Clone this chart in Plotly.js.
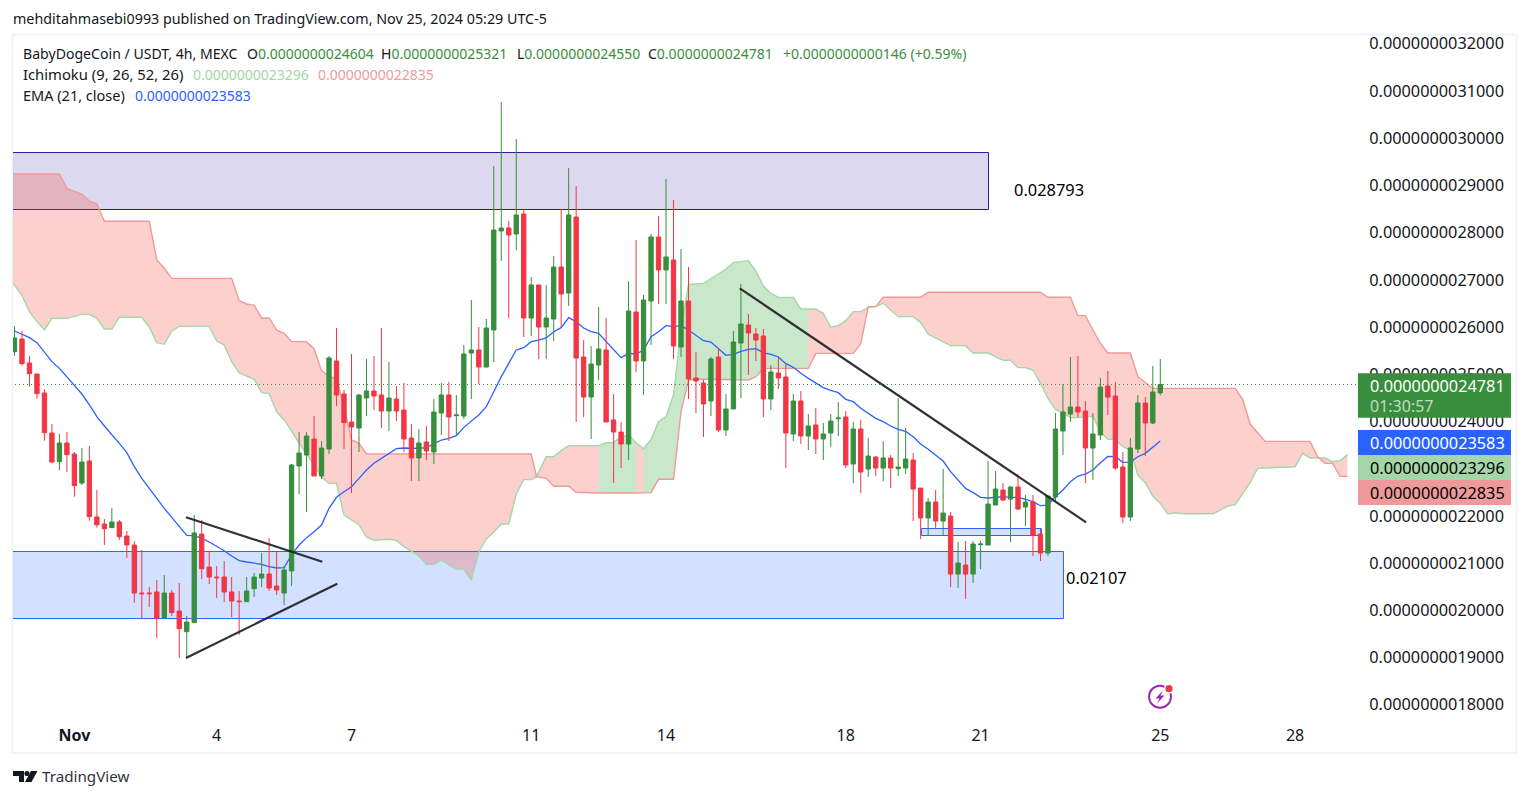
<!DOCTYPE html>
<html><head><meta charset="utf-8">
<script src="https://cdn.plot.ly/plotly-3.0.1.min.js"></script>
<style>html,body{margin:0;padding:0;background:#fff}#c{width:1530px;height:798px}</style>
</head><body><div id="c"></div>
<script>
// Prices are in units of 1e-13 USDT
const open=[25477,25746,25237,25004,24602,23754,23147,23542,23309,22695,
23161,21975,21826,21749,21869,21572,21381,20364,20364,20386,
19842,20364,19983,19545,19736,21614,20915,20703,20703,20386,
20195,20181,20456,20682,20767,20513,20364,20831,23055,23288,
23627,22843,23415,25280,24580,23987,23860,24496,24644,24559,
24220,24474,24241,23648,23225,23564,23352,24178,24559,24122,
24114,25449,25513,25152,25936,28034,28097,27970,28394,26191,
26890,26000,26169,27271,26720,28330,25364,24517,25195,25513,
24030,23775,23521,26318,25280,26551,27907,27208,27419,25576,
26551,24919,24813,24432,25364,23818,24263,25661,26042,25852,
25809,24475,25025,24941,23733,24432,23691,23924,23627,23754,
24058,24093,23097,23839,22991,23245,23012,23224,22998,23012,
23182,22588,21953,22292,21889,21995,20766,20957,20766,21388,
21381,22228,22546,22355,22610,22186,22292,21614,21211,22398,
23796,24156,24305,24220,23436,23711,24749,24538,23033,21974,
23415,24389,23966,24604];
const high=[26021,25915,25386,25004,24679,23945,23733,23775,23352,23436,
23479,22547,21932,22165,21911,21678,21466,21275,20492,20640,
20746,20428,20576,19877,22017,21911,21247,20936,21042,20703,
20407,20703,20788,21212,21530,21233,20936,23097,23775,23775,
24114,23585,25386,25979,24665,25428,24580,25322,25385,25979,
25258,24750,24813,23945,23839,23903,24474,24813,24835,24559,
25619,26572,26000,26169,29411,30767,28246,29983,28493,27059,
26890,26890,27504,28493,29368,28987,25725,25597,26424,26191,
24580,23987,26974,27843,26678,27970,28352,29135,28691,27652,
27271,25470,24877,25364,25555,24580,25915,26911,26275,25979,
25958,25195,25364,25216,24580,24644,24157,24284,23966,24157,
24411,24220,23987,24030,23648,23266,23584,23288,24495,23860,
23330,22588,22377,22546,22991,22080,21444,21466,21466,21473,
23160,22949,22694,22631,22885,22440,22440,21720,22419,24177,
24792,25364,25385,24432,24177,24919,25067,24834,23351,23648,
24559,24516,25173,25321];
const low=[25393,25181,24736,24482,23592,23119,22970,22928,22405,22653,
21897,21749,21381,21742,21487,21106,20160,19821,20068,19411,
19828,19877,18987,18994,19729,20661,20555,20259,20174,19856,
19475,20174,20280,20492,20407,20322,20110,20513,22462,22081,
22843,22780,23309,24326,23415,22483,23352,24114,24241,23860,
23797,24008,23352,22737,22737,23182,23097,23712,23585,23691,
24051,24474,24792,25152,25258,27398,26191,27631,25788,25809,
25322,25322,25703,26000,26445,23987,24093,23627,24877,23987,
22695,23013,23182,25047,24559,25619,26487,26487,25322,25364,
24475,24178,23669,24114,23775,23691,24263,24496,24983,25280,
24093,24241,24686,23013,23585,23521,23394,23309,23182,23458,
23691,23013,22695,22483,22822,22843,22737,22588,22843,22885,
21889,21508,21593,21720,21593,20491,20470,20237,20576,20872,
21381,22228,22313,21444,22122,21783,21148,21042,21148,22292,
23288,23987,24093,22694,22758,23605,24135,22970,21847,21889,
23330,23266,23944,24550];
const close=[25767,25223,25011,24588,23761,23140,23542,23295,22638,23140,
21982,21812,21727,21869,21558,21381,20364,20350,20350,19821,
20364,19948,19609,19750,21636,20880,20703,20689,20386,20195,
20181,20407,20703,20767,20470,20428,20852,23076,23330,23691,
22843,23436,25343,24559,23973,23881,24559,24644,24538,24220,
24496,24220,23627,23225,23542,23373,24199,24559,24093,24136,
25428,25513,25152,25979,28055,28097,27949,28373,26191,26890,
26000,26191,27271,26699,28373,25343,24517,25216,25534,23987,
23775,23521,26339,25280,26572,27907,27208,27483,25597,26551,
24898,24856,24369,25322,23818,24263,25682,26063,25873,25725,
24475,25047,24919,23754,24432,23691,23903,23627,23733,24008,
24072,23076,23839,22928,23266,23012,23224,23012,23033,23203,
22567,21953,22292,21889,22059,20766,20999,20766,21402,21402,
22249,22567,22334,22610,22144,22292,21593,21211,22419,23838,
24199,24305,24199,23436,23733,24728,24516,23012,21974,23436,
24389,23966,24622,24781];

const emaValues=[25915,25850,25774,25668,25477,25266,25124,24948,24750,24580,
24348,24100,23903,23726,23535,23338,23041,22794,22582,22349,
22158,21968,21770,21586,21579,21523,21445,21360,21261,21148,
21050,21021,21000,20972,20922,20894,20901,21170,21381,21537,
21664,21805,22158,22392,22511,22617,22794,22970,23112,23217,
23323,23422,23436,23429,23429,23443,23521,23606,23641,23698,
23874,24015,24136,24312,24630,24948,25230,25513,25562,25689,
25724,25767,25901,25986,26198,26113,25979,25901,25866,25689,
25513,25350,25442,25428,25513,25795,25901,26028,26007,26028,
25936,25830,25710,25682,25534,25400,25421,25484,25527,25541,
25456,25421,25364,25223,25145,25018,24912,24806,24715,24658,
24609,24467,24418,24277,24170,24064,23994,23902,23831,23789,
23676,23521,23408,23288,23160,22935,22758,22581,22490,22391,
22377,22391,22405,22391,22391,22348,22299,22214,22228,22405,
22546,22723,22843,22885,22970,23125,23259,23252,23132,23139,
23252,23323,23450,23583];

const leadAx=[-1,0,1,2,3,4,5,7,9,10,11,12,13,14,17,18,19,20,21,22,26,27,28,29,30,32,33,34,35,36,37,38,39,40,41,42,43,44,45,46,47,48,50,51,52,53,54,55,56,57,58,59,60,61,62,63,64,65,66,67,68,69,69.7,71,72,73,74,78,79,80,81,82,83,84,85,86,87,88,89,90,92,94,95,96,98,99,100,101,102,104,105,106,107,108,109,110,111,112,113,114,115,116,117,118,120,121,122,123,124,125,127,128,130,131,132,133,134,135,136,137,138,139,140,141,142,144,145,146,147,148,149,150,151,152,153,154,155,156,160,161,162,163,164,165,166,171,172,173,175,176,177,178];
const leadAv=[26960,26890,26664,26325,26113,25937,26184,26184,26268,26268,26184,25958,25958,26205,26205,26000,25668,25633,25915,26014,26014,25703,25619,25266,25033,24891,24609,24588,24206,24030,23797,23535,23323,23076,22829,22688,22688,22017,21911,21812,21551,21481,21502,21474,21346,21255,21149,20972,20972,21064,20958,20873,20873,20640,21240,21509,21657,21827,21827,22462,22766,22766,22829,23253,23253,23380,23486,23486,23550,23550,23677,23712,23550,23422,23620,23994,24100,24559,25950,26904,26925,27123,27229,27363,27405,27186,26869,26713,26628,26628,26381,26382,26382,26290,26000,26029,26134,26325,26325,26417,26431,26502,26360,26219,26219,26099,25845,25760,25675,25605,25605,25449,25449,25372,25294,25294,25139,25139,25089,24806,24488,24255,24184,24079,24079,24107,23782,23620,23620,23464,23394,22864,22701,22419,22264,22038,22066,22045,22045,22122,22207,22235,22475,22701,23005,23040,23323,23224,23224,23146,23167,23296];
const leadBx=[-1,6,7,8,9,10,11,12,18,19,20,21,29,30,31,32,33,34,35,36,37,39,40,41,42,43,44,45,46,47,69,69.7,71,72,74,75,77,78,83,84,85,86,88,89,90,91,98,99,100,106,107,112,113,114,115,116,121,122,137,138,141,142,143,144,145,146,149,150,152,163,164,165,167,173,174,175,176,177,178];
const leadBv=[29242,29242,28938,28874,28811,28670,28606,28239,28239,27412,27243,27031,27031,26558,26487,26459,26191,26191,25937,25866,25689,25689,25541,25075,24948,24912,24312,23606,23535,23309,23309,22829,22794,22625,22625,22498,22483,22483,22483,22483,22490,22773,22773,24206,24877,24898,24877,24948,25124,25125,25442,25442,25640,26431,26431,26629,26629,26735,26735,26629,26629,26240,26240,25937,25654,25449,25449,24947,24700,24700,24467,23944,23577,23577,23252,23111,23111,22835,22835];
const cloudBreaks=[-1,69.7,78,83,84,106,178];
const cloudColours=["red","red","green","red","green","red"];

const yTickVals=[32000,31000,30000,29000,28000,27000,26000,25000,24000,23000,22000,21000,20000,19000,18000];
const yTickText=yTickVals.map(v=>"0.00000000"+v);
const xTickVals=[8,27,45,69,87,111,129,153,171];
const xTickText=["<b>Nov</b>","4","7","11","14","18","21","25","28"];

// Drawing tools, in chart values: [bar, price]
const zoneBlue={x:[-5,140.07],y:[19824,21243]};
const zonePurple={x:[-5,130.06],y:[28489,29696]};
const zoneSmall={x:[121.11,137.13],y:[21583,21731]};
const trendUpper={x:[22.9,41.1],y:[21968,21028]};
const trendLower={x:[22.9,43.1],y:[18987,20562]};
const trendDown={x:[96.85,143.1],y:[26819,21861]};

const GREEN="#388e3c",RED="#f23645",BLUE="#2962ff",LA="#a5d6a7",LB="#ef9a9a",TXT="#131722";
const FONT="'Noto Sans', sans-serif";
const L=13,R=1358,T=35,B=720;
const px=x=>(x-L)/(R-L), py=y=>(B-y)/(B-T);

function seg(xs,vs,a,b){const X=[],Y=[];xs.forEach((x,i)=>{if(x>=a&&x<=b){X.push(x);Y.push(vs[i]);}});return{x:X,y:Y};}
const traces=[];
cloudColours.forEach((c,i)=>{
  const a=cloudBreaks[i],b=cloudBreaks[i+1];
  const s1=seg(leadBx,leadBv,a,b),s2=seg(leadAx,leadAv,a,b);
  traces.push({type:"scatter",mode:"lines",x:s1.x,y:s1.y,line:{width:0},hoverinfo:"skip",showlegend:false});
  traces.push({type:"scatter",mode:"lines",x:s2.x,y:s2.y,line:{width:0},fill:"tonexty",
    fillcolor:c==="red"?"rgba(244,67,54,0.25)":"rgba(76,175,80,0.3)",hoverinfo:"skip",showlegend:false});
});
traces.push({type:"scatter",mode:"lines",x:leadAx,y:leadAv,line:{color:LA,width:1.4},hoverinfo:"skip",showlegend:false});
traces.push({type:"scatter",mode:"lines",x:leadBx,y:leadBv,line:{color:LB,width:1.4},hoverinfo:"skip",showlegend:false});
const lastClose=close[close.length-1];
traces.push({type:"scatter",mode:"lines",x:[-1,180],y:[lastClose,lastClose],line:{color:GREEN,width:1,dash:"1px,3px"},hoverinfo:"skip",showlegend:false});
const barIndex=open.map((_,i)=>i);
traces.push({type:"scatter",mode:"lines",x:barIndex,y:emaValues,line:{color:BLUE,width:1.3},hoverinfo:"skip",showlegend:false});
traces.push({type:"candlestick",x:barIndex,open,high,low,close,yaxis:"y2",whiskerwidth:0,hoverinfo:"skip",showlegend:false,
  increasing:{line:{color:GREEN,width:1},fillcolor:GREEN},decreasing:{line:{color:RED,width:1},fillcolor:RED}});

const rectShape=(z,col,line)=>({type:"rect",layer:"below",xref:"x",yref:"y",x0:z.x[0],x1:z.x[1],y0:z.y[0],y1:z.y[1],fillcolor:col,line:{color:line,width:1}});
const lineShape=l=>({type:"line",layer:"above",xref:"x",yref:"y",x0:l.x[0],x1:l.x[1],y0:l.y[0],y1:l.y[1],line:{color:"rgba(28,28,30,0.9)",width:2.2}});
const pxRect=(x0,y0,x1,y1,fill,line)=>({type:"rect",layer:"above",xref:"paper",yref:"paper",x0:px(x0),x1:px(x1),y0:py(y0),y1:py(y1),fillcolor:fill,line:line||{width:0}});
const pxCirc=(cx,cy,r,fill,line)=>({type:"circle",layer:"above",xref:"paper",yref:"paper",x0:px(cx-r),x1:px(cx+r),y0:py(cy+r),y1:py(cy-r),fillcolor:fill,line:line||{width:0}});
const pxPoly=(pts,fill)=>({type:"path",layer:"above",xref:"paper",yref:"paper",fillcolor:fill,line:{width:0},
  path:"M"+pts.map(p=>px(p[0])+" "+py(p[1])).join("L")+"Z"});

const shapes=[
  {type:"rect",layer:"below",xref:"paper",yref:"paper",x0:px(12.5),x1:px(1516.5),y0:py(753),y1:py(34.5),fillcolor:"rgba(0,0,0,0)",line:{color:"#f0f3fa",width:2}},
  rectShape(zoneBlue,"rgba(41,98,255,0.2)",BLUE),
  rectShape(zonePurple,"rgba(80,60,175,0.2)","#34189a"),
  rectShape(zoneSmall,"rgba(41,98,255,0.2)",BLUE),
  lineShape(trendUpper),lineShape(trendLower),lineShape(trendDown),
  pxRect(1358,373.3,1511,417.7,GREEN),
  pxRect(1358,430,1511,455,BLUE),
  pxRect(1358,455,1511,480,LA),
  pxRect(1358,480,1511,505,LB),
  pxPoly([[13,771],[24,771],[24,782],[19,782],[19,776],[13,776]],"#131722"),
  pxCirc(27,773.5,2.6,"#131722"),
  pxPoly([[31,771],[37.5,771],[31.5,782],[25,782]],"#131722"),
  pxCirc(1160,696.7,11,"rgba(0,0,0,0)",{color:"#9c27b0",width:2}),
  pxPoly([[1163,690.5],[1155.5,698.5],[1159.5,698.5],[1157,703.5],[1164.5,695.5],[1160.5,695.5]],"#9c27b0"),
  pxCirc(1169,688.7,5,"#ffffff"),
  pxCirc(1169,688.7,3.6,RED)
];

const note=(text,x,y,size,color,extra)=>Object.assign({xref:"paper",yref:"paper",x:px(x),y:py(y),text,showarrow:false,xanchor:"left",yanchor:"middle",borderpad:0,
  font:{family:FONT,size,color}},extra||{});
const annotations=[
  note("mehditahmasebi0993 published on TradingView.com, Nov 25, 2024 05:29 UTC-5",12,19,14.3,TXT),
  note("BabyDogeCoin / USDT, 4h, MEXC",22,53.5,14.1,TXT),
  note("O<span style='color:"+GREEN+"'>0.0000000024604</span>",246,53.5,14,TXT),
  note("H<span style='color:"+GREEN+"'>0.0000000025321</span>",380,53.5,14,TXT),
  note("L<span style='color:"+GREEN+"'>0.0000000024550</span>",516,53.5,14,TXT),
  note("C<span style='color:"+GREEN+"'>0.0000000024781</span>",647,53.5,14,TXT),
  note("+0.0000000000146 (+0.59%)",782,53.5,14,GREEN),
  note("Ichimoku (9, 26, 52, 26)",22,74,14.8,TXT),
  note("0.0000000023296",192,74,14,LA),
  note("0.0000000022835",317,74,14,LB),
  note("EMA (21, close)",22,95,14.5,TXT),
  note("0.0000000023583",134,95,14,BLUE),
  note("0.0000000024781",1369,386,16.3,"#ffffff"),
  note("01:30:57",1369,405.5,16,"rgba(255,255,255,0.7)"),
  note("0.0000000023583",1369,442.5,16.3,"#ffffff"),
  note("0.0000000023296",1369,467.5,16.3,"#000000"),
  note("0.0000000022835",1369,492.5,16.3,"#000000"),
  note("TradingView",41,776,15.2,"#30333c"),
  note("0.028793",1013,190,16.4,"#000000"),
  note("0.02107",1065,577,16.4,"#000000")
];

const layout={width:1530,height:798,margin:{l:L,r:1530-R,t:T,b:798-B,pad:0},autosize:false,
  paper_bgcolor:"#ffffff",plot_bgcolor:"rgba(0,0,0,0)",showlegend:false,hovermode:false,dragmode:false,boxgap:0.42,boxgroupgap:0,
  font:{family:FONT,color:TXT},
  xaxis:{range:[-0.2,179.4],tickmode:"array",tickvals:xTickVals,ticktext:xTickText,showgrid:false,zeroline:false,showline:false,
    ticks:"outside",ticklen:1,tickcolor:"rgba(0,0,0,0)",tickfont:{family:FONT,size:16,color:TXT},tickangle:0,rangeslider:{visible:false}},
  yaxis:{range:[17674,32186],side:"right",tickmode:"array",tickvals:yTickVals,ticktext:yTickText,showgrid:false,zeroline:false,showline:false,
    ticks:"outside",ticklen:7,tickcolor:"rgba(0,0,0,0)",ticklabelshift:0.6,tickfont:{family:FONT,size:16.3,color:TXT}},
  yaxis2:{range:[17674,32186],overlaying:"y",side:"right",visible:false},
  shapes,annotations};
Plotly.newPlot("c",traces,layout,{staticPlot:true,displayModeBar:false});
</script></body></html>
